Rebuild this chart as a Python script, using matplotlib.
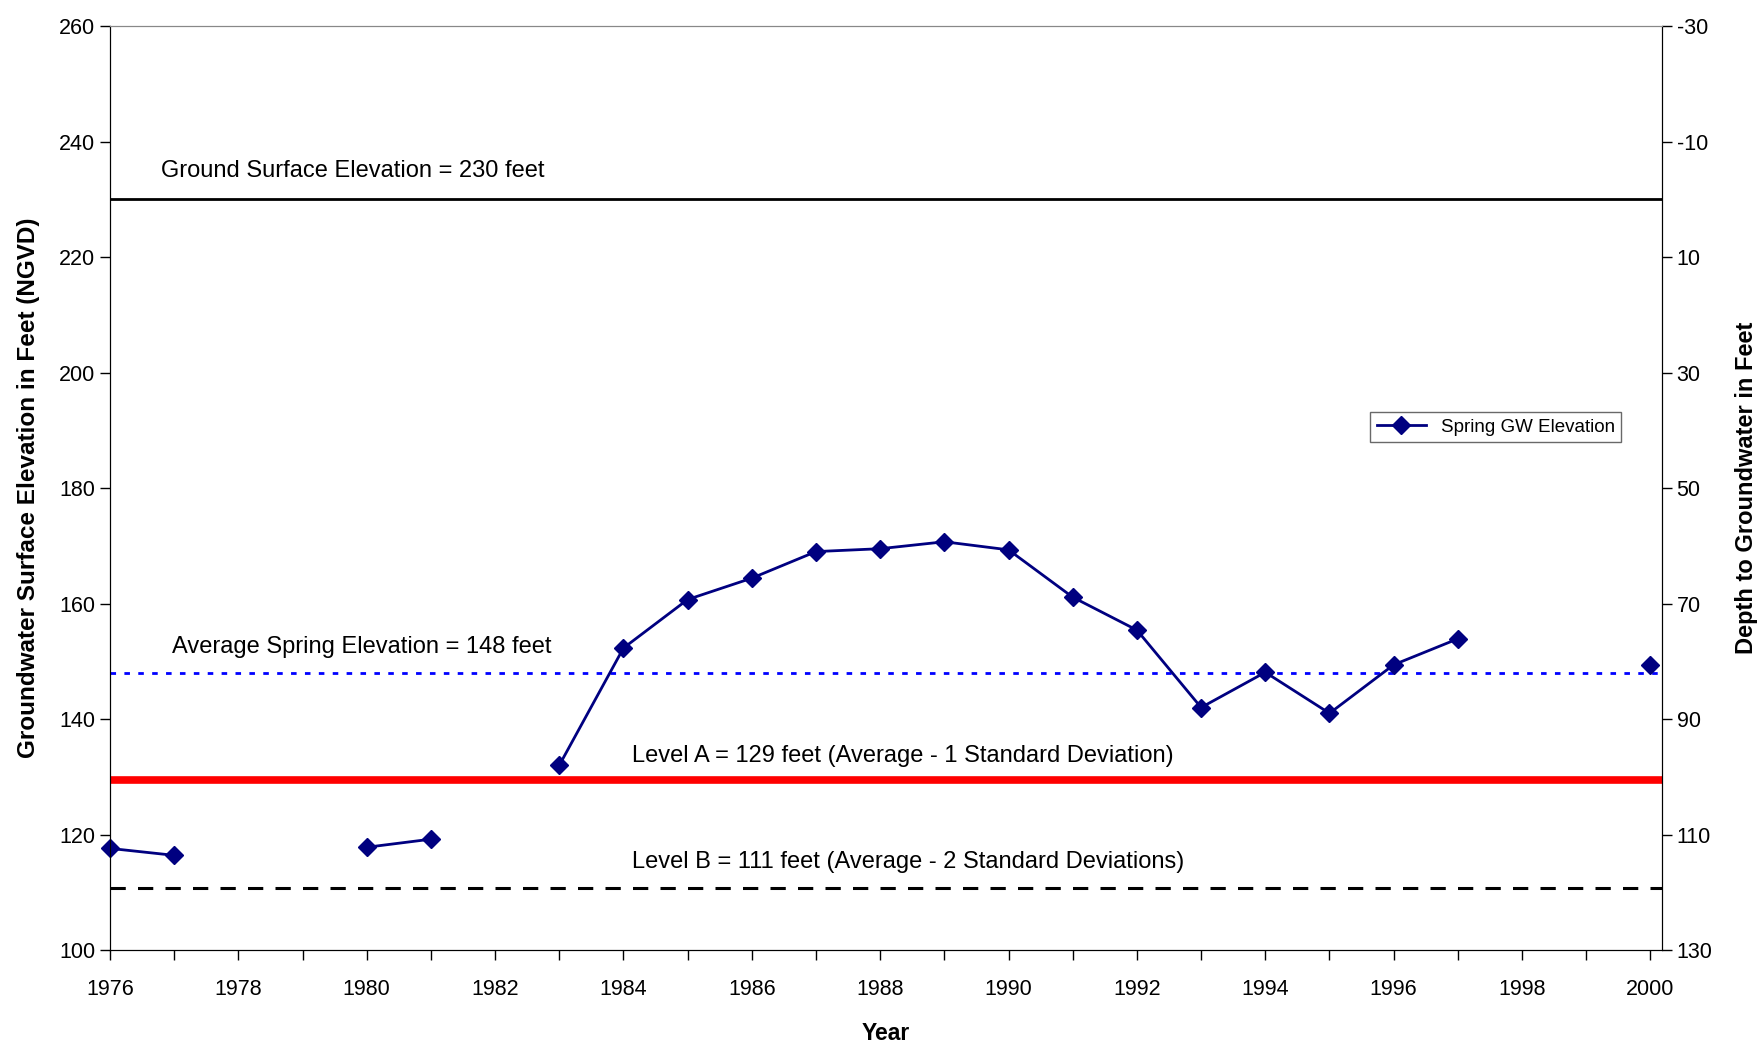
import matplotlib
matplotlib.use("Agg")
import matplotlib.pyplot as plt
import numpy as np
from matplotlib import font_manager

names = {f.name for f in font_manager.fontManager.ttflist}
fam = ["Liberation Sans Narrow", "DejaVu Sans"] if "Liberation Sans Narrow" in names else ["Liberation Sans", "DejaVu Sans"]
plt.rcParams['font.family'] = fam
plt.rcParams['axes.unicode_minus'] = False

years = [1976, 1977, 1978, 1979, 1980, 1981, 1982, 1983, 1984, 1985, 1986, 1987,
         1988, 1989, 1990, 1991, 1992, 1993, 1994, 1995, 1996, 1997, 1998, 1999, 2000]
elev = [117.6, 116.4, None, None, 117.8, 119.2, None, 132.0, 152.3, 160.7, 164.4, 169.0,
        169.5, 170.7, 169.3, 161.1, 155.4, 142.0, 148.1, 141.0, 149.4, 153.9, None, None, 149.4]
ground = 230
avg = 148
level_a = 129.4
level_b = 110.7
series_label = "Spring GW Elevation"
txt_ground = "Ground Surface Elevation = 230 feet"
txt_avg = "Average Spring Elevation = 148 feet"
txt_a = "Level A = 129 feet (Average - 1 Standard Deviation)"
txt_b = "Level B = 111 feet (Average - 2 Standard Deviations)"
left_ticks = [100, 120, 140, 160, 180, 200, 220, 240, 260]
right_ticks = [-30, -10, 10, 30, 50, 70, 90, 110, 130]

fig = plt.figure(figsize=(17.6, 10.47), dpi=100)
ax = fig.add_axes([0.0625, 0.0926, 0.8818, 0.8825])

y = np.array([np.nan if v is None else v for v in elev], dtype=float)
ax.plot(years, y, color="#000080", lw=2, marker="D", ms=9, label=series_label, zorder=5, clip_on=False)

ax.axhline(ground, color="black", lw=2)
ax.axhline(avg, color="#0000ff", lw=2, linestyle=(0, (2, 3)))
ax.axhline(level_a, color="#ff0000", lw=5.5)
ax.axhline(level_b, color="black", lw=2.2, linestyle=(0, (5, 4)))

fs_ann = 17
ax.text(1976.79, 234.9, txt_ground, fontsize=fs_ann, va="center")
ax.text(1976.97, 152.5, txt_avg, fontsize=fs_ann, va="center")
ax.text(1984.14, 133.6, txt_a, fontsize=fs_ann, va="center")
ax.text(1984.14, 115.3, txt_b, fontsize=fs_ann, va="center")

ax.set_xlim(1976, 2000.18)
ax.set_ylim(100, 260)
ax.set_yticks(left_ticks)
ax.set_xticks(np.arange(1976, 2001, 2))
ax.set_xticks(np.arange(1976, 2001, 1), minor=True)
ax.tick_params(axis="both", which="major", labelsize=15.5, direction="out", length=7, width=1)
ax.tick_params(axis="x", which="minor", direction="out", length=7, width=1)
ax.tick_params(axis="x", pad=14)
ax.spines["top"].set_color("#888888")
ax.set_xlabel("Year", fontsize=16.5, fontweight="bold", labelpad=16)
ax.set_ylabel("Groundwater Surface Elevation in Feet (NGVD)", fontsize=17.5, fontweight="bold", labelpad=14)

ax2 = ax.twinx()
ax2.set_ylim(130, -30)
ax2.set_yticks(right_ticks)
ax2.tick_params(axis="y", labelsize=15.5, direction="out", length=7, width=1)
ax2.set_ylabel("Depth to Groundwater in Feet", fontsize=17, fontweight="bold", labelpad=16)
ax2.spines["top"].set_color("#888888")

leg = ax.legend(loc="upper left", bbox_to_anchor=(0.812, 0.5823), fontsize=13.5, frameon=True,
                fancybox=False, edgecolor="#444444", handlelength=2.6, borderpad=0.35,
                borderaxespad=0)
leg.get_frame().set_linewidth(1)

fig.savefig("out.png", dpi=100)
